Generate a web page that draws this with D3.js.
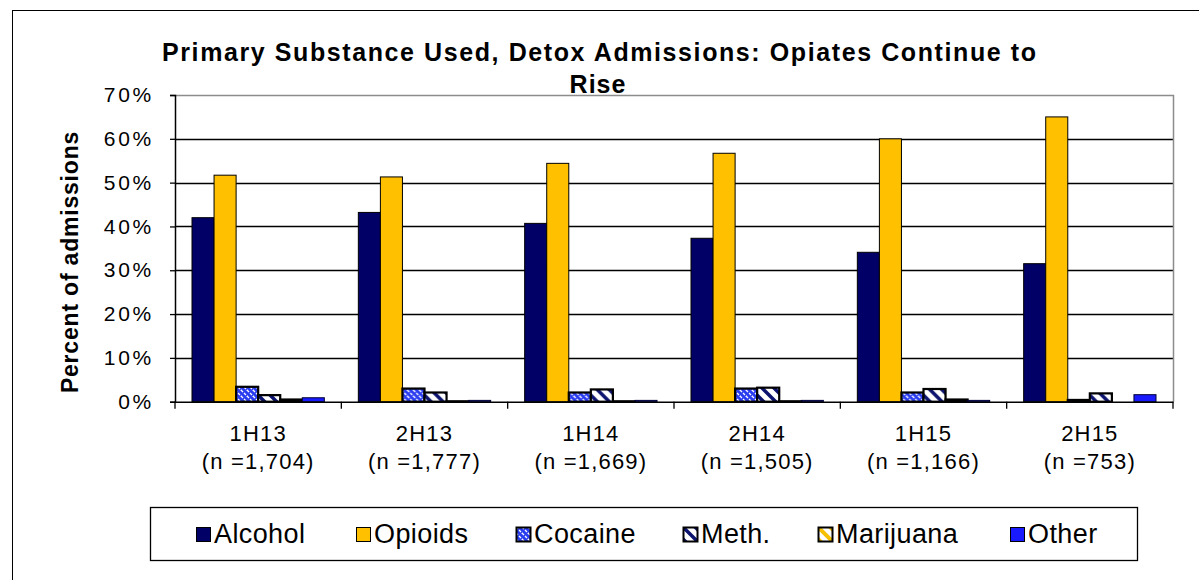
<!DOCTYPE html>
<html>
<head>
<meta charset="utf-8">
<script src="https://cdn.jsdelivr.net/npm/d3@7"></script>
<style>
  html, body { margin: 0; padding: 0; background: #fff; }
  svg { display: block; font-family: "Liberation Sans", Arial, sans-serif; }
</style>
</head>
<body>
<svg id="chart" width="1199" height="580"></svg>
<script>
// Half-year periods and their admission counts
const periods = ["1H13", "2H13", "1H14", "2H14", "1H15", "2H15"];
const counts = ["(n =1,704)", "(n =1,777)", "(n =1,669)", "(n =1,505)", "(n =1,166)", "(n =753)"];

// Share of detox admissions (%) by primary substance
const substances = ["Alcohol", "Opioids", "Cocaine", "Meth.", "Marijuana", "Other"];
const alcohol   = [42.0, 43.2, 40.7, 37.3, 34.1, 31.5];
const opioids   = [51.7, 51.3, 54.4, 56.7, 60.0, 65.0];
const cocaine   = [3.4, 3.0, 2.1, 3.0, 2.1, 0.4];
const meth      = [1.5, 2.1, 2.8, 3.2, 2.9, 1.9];
const marijuana = [0.5, 0.1, 0.1, 0.1, 0.5, 0.0];
const other     = [0.9, 0.3, 0.3, 0.3, 0.3, 1.6];

const yTicks = [0, 10, 20, 30, 40, 50, 60, 70];

const seriesValues = [alcohol, opioids, cocaine, meth, marijuana, other];

const svg = d3.select("#chart");
const defs = svg.append("defs");

// Fill patterns for the hatched series
const pCoc = defs.append("pattern").attr("id", "pat-cocaine")
  .attr("patternUnits", "userSpaceOnUse").attr("width", 6).attr("height", 6);
pCoc.append("rect").attr("width", 6).attr("height", 6).attr("fill", "#2a3cf0");
pCoc.append("path").attr("d", "M0,0 L2,2 M3,3 L5,5 M4,-2 L8,2 M-2,4 L2,8")
  .attr("stroke", "#fff").attr("stroke-width", 1.3);

const pMeth = defs.append("pattern").attr("id", "pat-meth")
  .attr("patternUnits", "userSpaceOnUse").attr("width", 12).attr("height", 12);
pMeth.append("rect").attr("width", 12).attr("height", 12).attr("fill", "#fff");
pMeth.append("path").attr("d", "M-2,-2 L14,14 M-2,10 L2,14 M10,-2 L14,2")
  .attr("stroke", "#0c1470").attr("stroke-width", 3.5);

const pMar = defs.append("pattern").attr("id", "pat-mar")
  .attr("patternUnits", "userSpaceOnUse").attr("width", 12).attr("height", 12);
pMar.append("rect").attr("width", 12).attr("height", 12).attr("fill", "#fff");
pMar.append("path").attr("d", "M-2,-2 L14,14 M-2,10 L2,14 M10,-2 L14,2")
  .attr("stroke", "#f6c000").attr("stroke-width", 4);

const styles = [
  { fill: "#000066", stroke: "#000", sw: 1 },
  { fill: "#ffc000", stroke: "#000", sw: 1 },
  { fill: "url(#pat-cocaine)", stroke: "#000", sw: 2.2 },
  { fill: "url(#pat-meth)", stroke: "#000", sw: 2.2 },
  { fill: "url(#pat-mar)", stroke: "#000", sw: 2.2 },
  { fill: "#1a1aff", stroke: "#000033", sw: 1 }
];

// Outer chart frame
svg.append("rect").attr("x", 12.5).attr("y", 10.5)
  .attr("width", 1300).attr("height", 700)
  .attr("fill", "none").attr("stroke", "#000").attr("stroke-width", 1);

const plot = { left: 175, right: 1173, top: 95, bottom: 401.7 };

const x0 = d3.scaleBand().domain(periods).range([plot.left, plot.right]).paddingInner(0).paddingOuter(0);
const x1 = d3.scaleBand().domain(substances).range([17, x0.bandwidth() - 17]).padding(0);
const y = d3.scaleLinear().domain([0, 70]).range([plot.bottom, plot.top]);

// Gridlines
svg.append("g").selectAll("line").data(yTicks.filter(t => t > 0 && t < 70)).join("line")
  .attr("x1", plot.left).attr("x2", plot.right)
  .attr("y1", d => Math.round(y(d)) + 0.5).attr("y2", d => Math.round(y(d)) + 0.5)
  .attr("stroke", "#000").attr("stroke-width", 1.3);

// Plot area top/right border
svg.append("path")
  .attr("d", `M${plot.left},${plot.top + 0.5} H${plot.right + 0.5} V${plot.bottom}`)
  .attr("fill", "none").attr("stroke", "#8c8c8c").attr("stroke-width", 1.5);

// Bars
const groups = svg.append("g").selectAll("g").data(periods).join("g")
  .attr("transform", d => `translate(${x0(d)},0)`);

groups.selectAll("rect")
  .data((p, i) => substances.map((s, k) => ({ s, k, v: seriesValues[k][i] })))
  .join("rect")
  .filter(d => d.v > 0)
  .attr("x", d => x1(d.s))
  .attr("width", x1.bandwidth())
  .attr("y", d => y(d.v))
  .attr("height", d => plot.bottom - y(d.v))
  .attr("fill", d => styles[d.k].fill)
  .attr("stroke", d => styles[d.k].stroke)
  .attr("stroke-width", d => styles[d.k].sw);

// Y axis
const yAxis = d3.axisLeft(y).tickValues(yTicks).tickSize(5).tickFormat(d => d + "%");
const gy = svg.append("g").attr("transform", `translate(${plot.left},0)`).call(yAxis);
gy.select(".domain").attr("stroke", "#000").attr("stroke-width", 1.5);
gy.selectAll(".tick line").attr("stroke", "#000").attr("stroke-width", 1.3);
gy.selectAll(".tick text").attr("x", -21).attr("font-size", 21)
  .attr("letter-spacing", 2.7).attr("fill", "#000")
  .attr("font-family", "'Liberation Sans', Arial, sans-serif");

// X axis with category ticks between groups
const xAxis = d3.axisBottom(x0).tickSize(0).tickFormat("");
const gx = svg.append("g").attr("transform", `translate(0,${plot.bottom})`).call(xAxis);
gx.select(".domain").attr("stroke", "#000").attr("stroke-width", 1.5);
gx.selectAll(".tick").remove();
const bounds = periods.map(p => x0(p)).concat([plot.right]);
gx.selectAll("line.sep").data(bounds).join("line").attr("class", "sep")
  .attr("x1", d => d).attr("x2", d => d).attr("y1", 0).attr("y2", 7)
  .attr("stroke", "#000").attr("stroke-width", 1.3);

// Category labels
const labels = svg.append("g").selectAll("text").data(periods).join("text")
  .attr("x", d => x0(d) + x0.bandwidth() / 2)
  .attr("text-anchor", "middle")
  .attr("font-size", 22).attr("letter-spacing", 1.2).attr("fill", "#000");
labels.append("tspan").attr("x", d => x0(d) + x0.bandwidth() / 2).attr("y", 441).text(d => d);
labels.append("tspan").attr("x", d => x0(d) + x0.bandwidth() / 2).attr("y", 469)
  .text((d, i) => counts[i]);

// Y axis title
svg.append("text")
  .attr("transform", "translate(78,262) rotate(-90)")
  .attr("text-anchor", "middle")
  .attr("font-size", 23).attr("font-weight", "bold").attr("letter-spacing", 0.8)
  .text("Percent of admissions");

// Chart title
const title = svg.append("text").attr("text-anchor", "middle")
  .attr("font-size", 25).attr("font-weight", "bold");
title.append("tspan").attr("x", 599).attr("y", 61)
  .attr("textLength", 874).attr("lengthAdjust", "spacing")
  .text("Primary Substance Used, Detox Admissions:  Opiates Continue to");
title.append("tspan").attr("x", 598).attr("y", 93).attr("letter-spacing", 1).text("Rise");

// Legend
const legend = svg.append("g");
legend.append("rect").attr("x", 150.5).attr("y", 507.5).attr("width", 987).attr("height", 53)
  .attr("fill", "#fff").attr("stroke", "#000").attr("stroke-width", 1.3);
const legendX = [196, 356, 516, 683, 818, 1010];
const items = legend.selectAll("g.item").data(substances).join("g").attr("class", "item")
  .attr("transform", (d, i) => `translate(${legendX[i]},527)`);
items.append("rect").attr("x", 0.5).attr("y", 0.5).attr("width", 14).attr("height", 14)
  .attr("fill", (d, i) => styles[i].fill)
  .attr("stroke", "#000").attr("stroke-width", (d, i) => i >= 2 && i <= 4 ? 2 : 1);
items.append("text").attr("x", 18).attr("y", 16)
  .attr("font-size", 27).attr("letter-spacing", 0.4).attr("fill", "#000").text(d => d);
</script>
</body>
</html>
